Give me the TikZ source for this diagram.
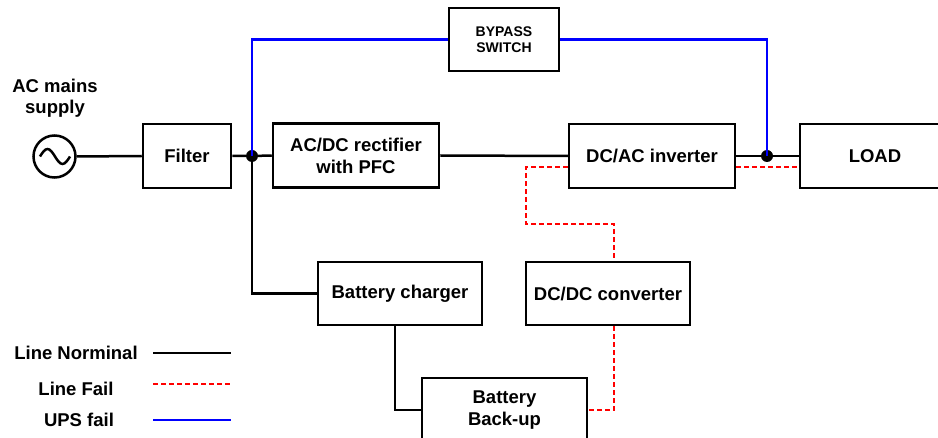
\documentclass[tikz,border=0pt]{standalone}
\usepackage{fontspec}
\setmainfont{Liberation Sans}
\begin{document}
\begin{tikzpicture}[x=1pt,y=-1pt,
  blk/.style={draw=black,line width=2.5pt,fill=white,inner sep=0pt,align=center,
    font=\bfseries\fontsize{18.5}{22}\selectfont},
  lab/.style={inner sep=0pt,align=center,font=\bfseries\fontsize{18.5}{21}\selectfont},
  nline/.style={draw=black,line width=2.5pt},
  fline/.style={draw=red,line width=2.6pt,dash pattern=on 5pt off 3pt},
  uline/.style={draw=blue,line width=2.5pt},
  jdot/.style={circle,fill=black,inner sep=0pt,minimum size=12pt}]
\useasboundingbox (0,0) rectangle (938,438);

% source
\node[draw=black,line width=2.5pt,circle,minimum size=42pt,inner sep=0pt] (src) at (54.5,156.5) {};
\draw[line width=2.5pt] (40,156.5) sin (47.5,149) cos (55,156.5) sin (62.5,164) cos (70,156.5);
\node[lab] (srclab) at (55,98) {AC mains\\supply};

% blocks
\node[blk,minimum width=88pt,minimum height=64pt] (filter) at (187,156) {Filter};
\node[blk,minimum width=166pt,minimum height=64pt] (rect) at (356,155.5) {AC/DC rectifier\\with PFC};
\node[blk,minimum width=110pt,minimum height=63pt,font=\bfseries\fontsize{14}{15.5}\selectfont] (bypass) at (504,39.5) {BYPASS\\SWITCH};
\node[blk,minimum width=166pt,minimum height=64pt] (inv) at (652,156) {DC/AC inverter};
\node[blk,minimum width=150pt,minimum height=64pt] (load) at (875,156) {LOAD};
\node[blk,minimum width=164pt,minimum height=63pt] (charger) at (400,293.5) {Battery charger};
\node[blk,minimum width=164pt,minimum height=63pt] (dcdc) at (608,293.5) {DC/DC converter};
\node[blk,minimum width=165pt,minimum height=64pt] (backup) at (504.5,410) {Battery\\Back-up};

% junctions
\node[jdot] (j1) at (252,156) {};
\node[jdot] (j2) at (767,156) {};

% normal lines
\draw[nline] (src.east) -- (filter.west);
\draw[nline] (filter.east) -- (j1) -- (rect.west);
\draw[nline] (rect.east) -- (inv.west);
\draw[nline] (inv.east) -- (j2) -- (load.west);
\draw[nline] (j1.center) |- (charger.west);
\draw[nline] (charger.south -| 395,0) |- (backup.west);

% bypass (UPS fail)
\draw[uline] (j1.center) |- (bypass.west);
\draw[uline] (bypass.east) -| (j2.center);

% line fail
\coordinate (invL) at ([yshift=-11pt]inv.west);
\coordinate (invR) at ([yshift=-11pt]inv.east);
\coordinate (loadL) at ([yshift=-11pt]load.west);
\coordinate (dcT) at (dcdc.north -| 614,0);
\coordinate (dcB) at (dcdc.south -| 614,0);
\draw[fline] (invL) -- (526,167) -- (526,224) -- (614,224) -- (dcT);
\draw[fline] (dcB) |- (backup.east);
\draw[fline] (invR) -- (loadL);

% legend
\node[lab] (l1) at (76,353) {Line Norminal};
\node[lab] (l2) at (76,389) {Line Fail};
\node[lab] (l3) at (79,420) {UPS fail};
\coordinate (a1) at (153,353); \coordinate (b1) at (231,353);
\coordinate (a2) at (153,384); \coordinate (b2) at (231,384);
\coordinate (a3) at (153,420); \coordinate (b3) at (231,420);
\draw[nline] (a1) -- (b1);
\draw[fline] (a2) -- (b2);
\draw[uline] (a3) -- (b3);
\end{tikzpicture}
\end{document}
